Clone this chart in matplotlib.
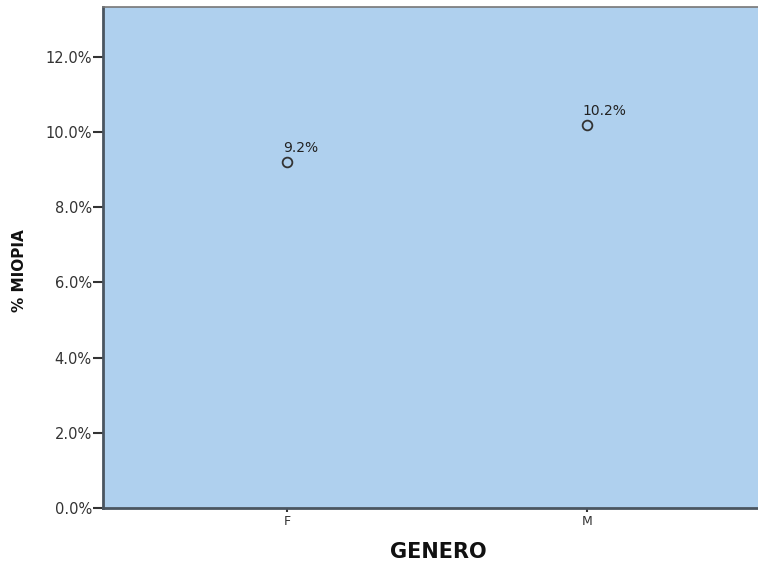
import matplotlib.pyplot as plt
from matplotlib.ticker import FuncFormatter

plt.rcParams['font.family'] = ['DejaVu Sans']

# data
genero = ['F', 'M']
miopia = [9.2, 10.2]
y_ticks = [0, 2, 4, 6, 8, 10, 12]

fig = plt.figure(figsize=(7.58, 5.63), dpi=100)
ax = fig.add_axes([103 / 758, 1 - 508 / 563, 1 - 103 / 758, 501 / 563])
ax.set_facecolor('#AFD0EE')

x = list(range(len(genero)))
ax.plot(x, miopia, 'o', linestyle='none', markersize=7,
        markerfacecolor='none', markeredgecolor='#333333', markeredgewidth=1.3)
for xi, v in zip(x, miopia):
    ax.annotate(f'{v:.1f}%', (xi, v), xytext=(-3, 5), textcoords='offset points',
                ha='left', va='bottom', fontsize=10, color='#222222')

ax.set_xlim(-0.613, 1.57)
ax.set_ylim(0, 13.33)
ax.set_xticks(x)
ax.set_xticklabels(genero, fontsize=9, color='#333333')
ax.set_yticks(y_ticks)
ax.yaxis.set_major_formatter(FuncFormatter(lambda v, p: f'{v:.1f}%'))
ax.tick_params(axis='y', length=7, width=1.5, color='#333333', labelsize=10.5,
               labelcolor='#333333', pad=1)
ax.tick_params(axis='x', length=3, width=1.5, color='#333333', pad=2)

for s in ['left', 'bottom']:
    ax.spines[s].set_color('#4A5560')
    ax.spines[s].set_linewidth(2)
ax.spines['top'].set_color('#777777')
ax.spines['top'].set_linewidth(1.2)
ax.spines['right'].set_visible(False)

fig.text(20 / 758, 1 - 271 / 563, '% MIOPIA', rotation=90, ha='center', va='center',
         fontsize=11, fontweight='bold', color='#111111')
fig.text(438 / 758, 1 - 552 / 563, 'GENERO', ha='center', va='center',
         fontsize=15, fontweight='bold', color='#111111')

fig.savefig('out.png', dpi=100)
